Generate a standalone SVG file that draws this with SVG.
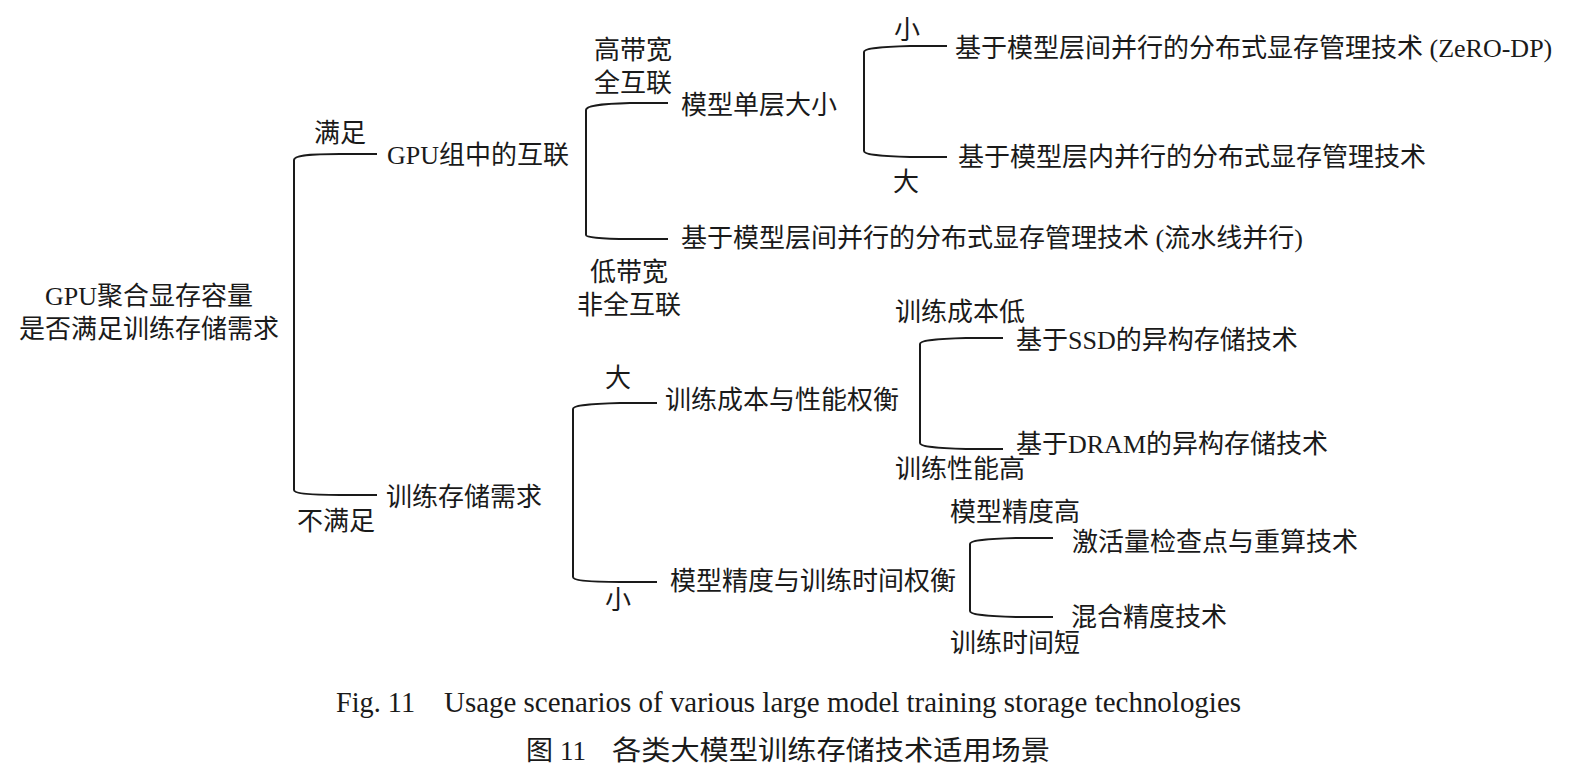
<svg xmlns="http://www.w3.org/2000/svg" width="1580" height="782" viewBox="0 0 1580 782">
<style>
text{font-family:"Liberation Serif","Noto Sans CJK SC",serif;font-size:26px;fill:#1a1a1a}
.cap{font-size:29px}
.cap2{font-size:27px}
.br{fill:none;stroke:#1a1a1a;stroke-width:2}
</style>
<rect width="1580" height="782" fill="#fff"/>
<g id="connectors">
<path class="br" d="M377,154 L340,154 C305,154 294,156 294,160 L294,490 C294,493 305,495 340,495 L377,495"/>
<path class="br" d="M668,103 L630,103 C597,104 586,106 586,110 L586,235 C586,237 597,239 630,239 L668,239"/>
<path class="br" d="M947,46 L910,46 C875,47 864,49 864,52 L864,151 C864,154 875,156 910,157 L947,157"/>
<path class="br" d="M657,403 L620,403 C584,404 573,406 573,409 L573,577 C573,580 584,582 620,582 L657,582"/>
<path class="br" d="M1003,338 L966,338 C931,339 920,341 920,344 L920,443 C920,446 931,448 966,449 L1003,449"/>
<path class="br" d="M1053,538 L1016,538 C981,539 970,541 970,544 L970,611 C970,614 981,616 1016,617 L1053,617"/>
</g>
<g id="root">
<text x="149" y="305" text-anchor="middle">GPU聚合显存容量</text>
<text x="149" y="338" text-anchor="middle">是否满足训练存储需求</text>
</g>
<g id="label-satisfy"><text x="314" y="142">满足</text></g>
<g id="label-notsatisfy"><text x="297" y="530">不满足</text></g>
<g id="gpu-interconnect"><text x="387" y="164">GPU组中的互联</text></g>
<g id="train-storage"><text x="386" y="506">训练存储需求</text></g>
<g id="label-highbw">
<text x="594" y="59">高带宽</text>
<text x="594" y="92">全互联</text>
</g>
<g id="model-layer-size"><text x="681" y="114">模型单层大小</text></g>
<g id="label-small-1"><text x="894" y="39">小</text></g>
<g id="label-large-1"><text x="893" y="191">大</text></g>
<g id="zero-dp"><text x="955" y="57">基于模型层间并行的分布式显存管理技术 (ZeRO-DP)</text></g>
<g id="intra-layer"><text x="958" y="166">基于模型层内并行的分布式显存管理技术</text></g>
<g id="pipeline"><text x="681" y="247">基于模型层间并行的分布式显存管理技术 (流水线并行)</text></g>
<g id="label-lowbw">
<text x="590" y="281">低带宽</text>
<text x="577" y="314">非全互联</text>
</g>
<g id="label-lowcost"><text x="895" y="321">训练成本低</text></g>
<g id="ssd"><text x="1016" y="349">基于SSD的异构存储技术</text></g>
<g id="label-large-2"><text x="605" y="387">大</text></g>
<g id="cost-perf"><text x="665" y="409">训练成本与性能权衡</text></g>
<g id="dram"><text x="1016" y="453">基于DRAM的异构存储技术</text></g>
<g id="label-highperf"><text x="895" y="478">训练性能高</text></g>
<g id="label-highacc"><text x="950" y="521">模型精度高</text></g>
<g id="checkpoint"><text x="1072" y="551">激活量检查点与重算技术</text></g>
<g id="acc-time"><text x="670" y="590">模型精度与训练时间权衡</text></g>
<g id="label-small-2"><text x="605" y="609">小</text></g>
<g id="mixed"><text x="1071" y="626">混合精度技术</text></g>
<g id="label-shorttime"><text x="950" y="652">训练时间短</text></g>
<g id="caption">
<text class="cap" x="336" y="712" textLength="79" lengthAdjust="spacingAndGlyphs">Fig. 11</text>
<text class="cap" x="444" y="712" textLength="797" lengthAdjust="spacingAndGlyphs">Usage scenarios of various large model training storage technologies</text>
<text class="cap2" x="526" y="760">图</text>
<text class="cap2" x="560" y="760">11</text>
<text class="cap2" x="612" y="760" textLength="438" lengthAdjust="spacingAndGlyphs">各类大模型训练存储技术适用场景</text>
</g>
</svg>
